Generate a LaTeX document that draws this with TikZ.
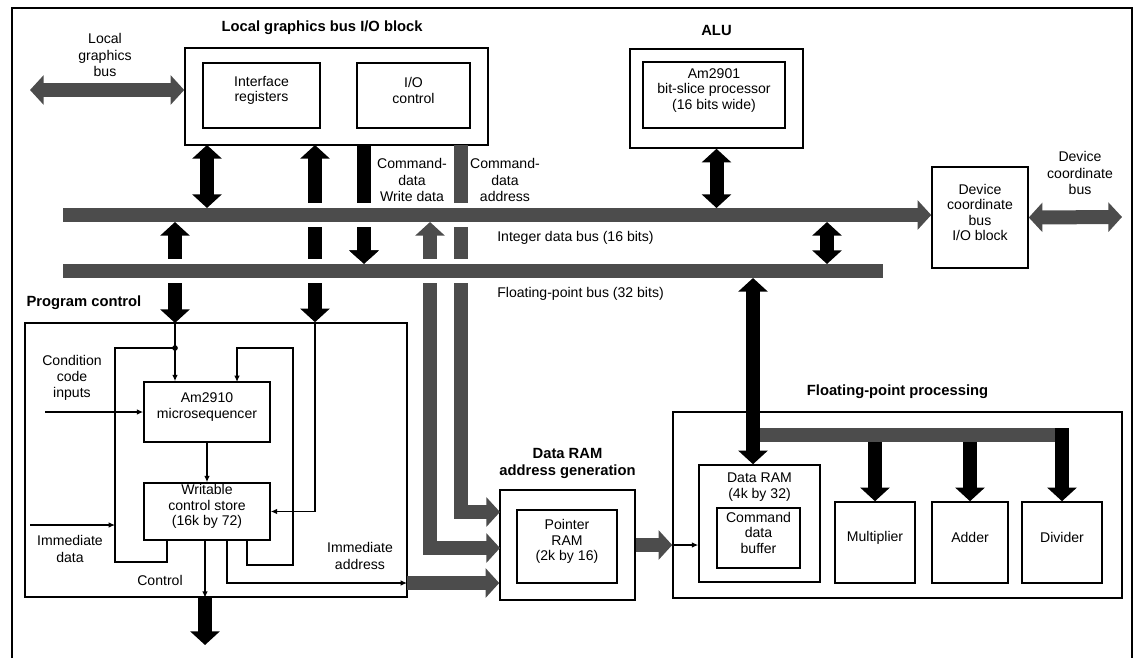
\documentclass[tikz,border=0pt]{standalone}
\usepackage{fontspec}
\setmainfont{Liberation Sans}
\usepackage{xcolor}
\usetikzlibrary{positioning,arrows.meta,calc,fit}
\definecolor{busgray}{gray}{0.3}

\begin{document}
\begin{tikzpicture}[
    x=0.025cm, y=-0.025cm,
    blk/.style={draw, line width=1.1pt, inner sep=0pt, align=center, font=\fontsize{10}{11}\selectfont},
    ttl/.style={font=\fontsize{10.5}{12}\selectfont\bfseries, align=center, inner sep=0pt},
    txt/.style={font=\fontsize{10}{11.5}\selectfont, align=center, inner sep=0pt},
    wire/.style={line width=0.9pt, >={Latex[length=4.5pt,width=4pt]}},
    gbus/.style={draw=busgray, line width=0.35cm, line join=miter, >={Triangle[width=0.72cm,length=0.34cm]}},
    kbus/.style={gbus, draw=black},
    gapline/.style={draw=white, line width=0.58cm}
]
    \useasboundingbox (0,0) rectangle (1142,658);
    \draw[line width=1pt] (12,658) -- (12,8) -- (1132,8) -- (1132,658);

    % local graphics bus I/O block
    \node[blk, fit={(185,48) (488,145)}] (lgio) {};
    \node[ttl, above=0.3cm of lgio, xshift=-0.36cm] (lgio-t) {Local graphics bus I/O block};
    \node[blk, fit={(203,63) (320,128)}] (iface) {Interface\\registers};
    \node[blk, fit={(357,63) (470,128)}] (ioctl) {I/O\\control};

    % ALU
    \node[blk, fit={(630,49) (803,148)}] (alu) {};
    \node[ttl, above=0.3cm of alu] (alu-t) {ALU};
    \node[blk, fit={(643,62) (785,128)}] (am2901) {Am2901\\bit-slice processor\\(16 bits wide)};

    \node[blk, fit={(932,167) (1028,268)}] (devio) {Device\\coordinate\\bus\\I/O block};

    % program control
    \node[blk, fit={(25,323) (407,597)}] (prog) {};
    \node[ttl, above right=0.3cm and 0.05cm of prog.north west] (prog-t) {Program control};
    \node[blk, fit={(144,382) (270,442)}] (seq) {Am2910\\microsequencer};
    \node[blk, fit={(144,483) (270,540)}] (wcs) {Writable\\control store\\(16k by 72)};

    % data RAM address generation
    \node[blk, fit={(500,490) (635,600)}] (addrgen) {};
    \node[ttl, above=0.25cm of addrgen] (addrgen-t) {Data RAM\\address generation};
    \node[blk, fit={(517,510) (617,583)}] (ptrram) {Pointer\\RAM\\(2k by 16)};

    % floating-point processing
    \node[blk, fit={(673,412) (1122,598)}] (fpp) {};
    \node[ttl, above=0.3cm of fpp] (fpp-t) {Floating-point processing};
    \node[blk, fit={(699,465) (820,582)}] (dram) {};
    \node[txt, below=0.2cm of dram.north] (dram-t) {Data RAM\\(4k by 32)};
    \node[blk, fit={(717,508) (800,568)}] (cmdbuf) {Command\\data\\buffer};
    \node[blk, fit={(835,502) (915,583)}] (mult) {Multiplier};
    \node[blk, fit={(932,502) (1008,583)}] (adder) {Adder};
    \node[blk, fit={(1022,502) (1102,583)}] (divider) {Divider};

    % labels
    \node[txt] (lgb-l) at (105,55) {Local\\graphics\\bus};
    \node[txt] (dcb-l) at (1080,173) {Device\\coordinate\\bus};
    \node[txt] (cwd-l) at (412,180) {Command-\\data\\Write data};
    \node[txt] (cda-l) at (505,180) {Command-\\data\\address};
    \node[txt, anchor=west] (ib-l) at (497,238) {Integer data bus (16 bits)};
    \node[txt, anchor=west] (fb-l) at (497,294) {Floating-point bus (32 bits)};
    \node[txt] (cc-l) at (72,378) {Condition\\code\\inputs};
    \node[txt] (imd-l) at (70,549) {Immediate\\data};
    \node[txt] (ctl-l) at (160,580) {Control};
    \node[txt] (ima-l) at (360,556) {Immediate\\address};

    \coordinate (c1) at (207,145);
    \coordinate (c2) at (315,145);
    \coordinate (c3) at (364,145);
    \coordinate (c4) at (461,145);
    \coordinate (c5) at (175,323);
    \coordinate (c6) at (430,222);
    \coordinate (c8) at (827,222);
    \coordinate (ibN) at (0,208);
    \coordinate (ibS) at (0,222);
    \coordinate (fbN) at (0,264);
    \coordinate (ibw) at (63,215);
    \coordinate (fbw) at (63,271);
    \coordinate (fbe) at (883,271);
    \coordinate (lgb) at (30,90);
    \coordinate (dcb) at (1122,217);
    \coordinate (ag1) at (500,512);
    \coordinate (ag2) at (500,548);
    \coordinate (fcol) at (753,278);
    \coordinate (br) at (753,435);

    % lines passing under the buses
    \draw[kbus, <->] (c2) -- (c2 |- prog.north);
    \draw[gbus, ->] (c4) |- (ag1);
    \draw[kbus, ->] (c3) -- (c3 |- fbN);
    \draw[gapline] (ibw) -- (ibw -| devio.west);
    \draw[gbus, ->] (ibw) -- (ibw -| devio.west);
    \draw[kbus, <->] (c5 |- ibS) -- (c5);
    \draw[gbus, <->] (c6) |- (ag2);
    \draw[gapline] (fbw) -- (fbe);
    \draw[gbus] (fbw) -- (fbe);
    \draw[kbus, ->] ($(c3 |- fbN)+(0,-20)$) -- (c3 |- fbN);

    \draw[kbus, <->] (c1) -- (c1 |- ibN);
    \draw[kbus, <->] (alu.south) -- (alu.south |- ibN);
    \draw[kbus, <->] (c8) -- (c8 |- fbN);
    \draw[gbus] (br) -- ($(br -| divider.north)+(7,0)$);
    \draw[kbus, <->] (fcol) -- (fcol |- dram.north);
    \draw[kbus, ->] ($(br -| divider.north)+(0,-7)$) -- (divider.north);
    \draw[kbus, ->] ($(br -| mult.north)+(0,7)$) -- (mult.north);
    \draw[kbus, ->] ($(br -| adder.north)+(0,7)$) -- (adder.north);
    \draw[gbus, <->] (lgb) -- (lgb -| lgio.west);
    \draw[gbus, <->] (devio.east) -- (dcb);

    % inside program control
    \coordinate (jl) at (175,348);
    \coordinate (wl) at (167,540);
    \coordinate (wr) at (247,540);
    \coordinate (ll) at (115,562);
    \coordinate (rl) at (293,565);
    \coordinate (sr) at (237,382);
    \coordinate (ctl) at (205,540);
    \coordinate (ima) at (227,540);
    \coordinate (cc) at (45,412);
    \coordinate (imd) at (30,525);
    \coordinate (iax) at (407,583);
    \coordinate (ctlout) at (205,645);

    \draw[wire, ->] (c5) -- (c5 |- seq.north);
    \draw[wire] (wl) |- (ll) |- (jl);
    \fill (jl) circle (2pt);
    \draw[wire, ->] (wr) |- (rl) |- ($(sr)+(0,-34)$) -- (sr);
    \draw[wire, ->] (c2 |- prog.north) |- (wcs.east);
    \draw[wire, ->] (cc) -- (seq.west);
    \draw[wire, ->] (imd) -- (imd -| ll);
    \draw[wire, ->] (seq.south) -- (wcs.north);
    \draw[wire, ->] (ctl) -- (ctl |- prog.south);
    \draw[kbus, ->] (ctl |- prog.south) -- (ctlout);
    \draw[wire, ->] (ima) |- (iax);
    \draw[gbus, ->] (iax) -- (iax -| addrgen.west);
    \draw[gbus, ->] (addrgen.east) -- (addrgen.east -| fpp.west);
    \draw[wire, ->] (addrgen.east -| fpp.west) -- (addrgen.east -| dram.west);
\end{tikzpicture}
\end{document}
